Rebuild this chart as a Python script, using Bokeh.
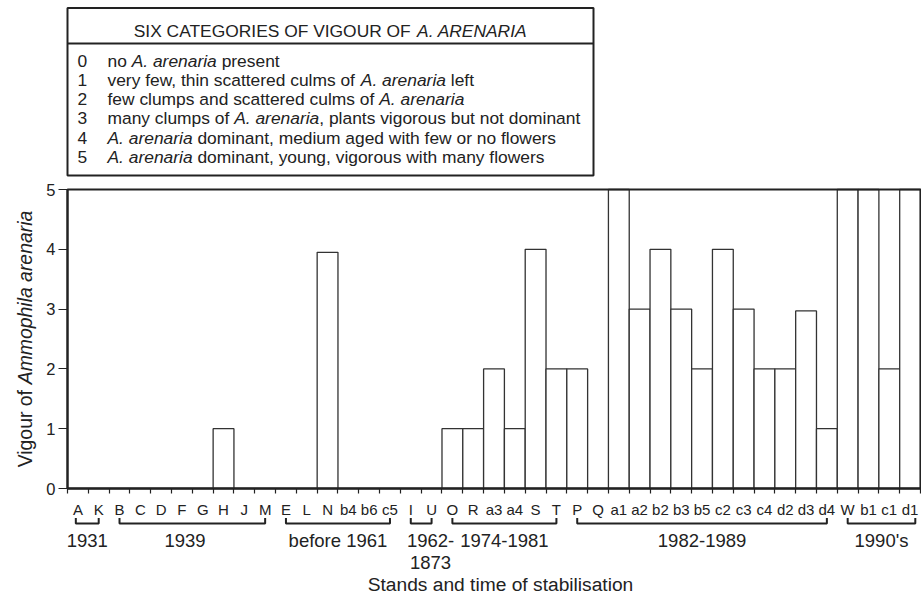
import math
from bokeh.plotting import figure
from bokeh.models import ColumnDataSource, Range1d, LinearAxis, FixedTicker
from bokeh.core.properties import value
from bokeh.embed import file_html
from bokeh.resources import INLINE

# ---------------- data ----------------
stands = ["A", "K", "B", "C", "D", "F", "G", "H", "J", "M",
          "E", "L", "N", "b4", "b6", "c5", "I", "U",
          "O", "R", "a3", "a4", "S", "T",
          "P", "Q", "a1", "a2", "b2", "b3", "b5", "c2", "c3", "c4", "d2", "d3", "d4",
          "W", "b1", "c1", "d1"]
vigour = [0, 0, 0, 0, 0, 0, 0, 1, 0, 0,
          0, 0, 3.95, 0, 0, 0, 0, 0,
          1, 1, 2, 1, 4, 2,
          2, 0, 5, 3, 4, 3, 2, 4, 3, 2, 2, 2.97, 1,
          5, 5, 2, 5]
y_ticks = [0, 1, 2, 3, 4, 5]
group_labels = ["1931", "1939", "before 1961", "1962-\n1873", "1974-1981", "1982-1989", "1990's"]
group_first = ["A", "B", "E", "I", "O", "P", "W"]
group_last = ["K", "M", "c5", "U", "T", "d4", "d1"]
legend_title = [("SIX CATEGORIES OF VIGOUR OF ", False), ("A. ARENARIA", True)]
legend_codes = ["0", "1", "2", "3", "4", "5"]
legend_desc = [
    [("no ", False), ("A. arenaria", True), (" present", False)],
    [("very few, thin scattered culms of ", False), ("A. arenaria", True), (" left", False)],
    [("few clumps and scattered culms of ", False), ("A. arenaria", True)],
    [("many clumps of ", False), ("A. arenaria", True), (", plants vigorous but not dominant", False)],
    [("A. arenaria", True), (" dominant, medium aged with few or no flowers", False)],
    [("A. arenaria", True), (" dominant, young, vigorous with many flowers", False)],
]
x_title = "Stands and time of stabilisation"
y_title = [("Vigour of ", False), ("Ammophila arenaria", True)]

# ---------------- geometry (canvas pixels) ----------------
W, H = 921, 596
X0, X1 = 67.0, 920.0      # canvas x of data 0 and data n
Y5, Y0 = 189.0, 488.0     # canvas y of vigour 5 and 0
n = len(stands)
ymax = max(y_ticks)
ppx = (X1 - X0) / n
ppy = (Y0 - Y5) / ymax


def dx(px):
    return (px - X0) / ppx


def dy(py):
    return (Y0 - py) / ppy


FONT = "Liberation Sans"
INK = "#222222"
LINE = "#333333"

# Arial / Liberation Sans advance widths (1/1000 em)
AW = {" ": 278, ",": 278, ".": 278, "-": 333, "'": 191}
for ch in "0123456789":
    AW[ch] = 556
AW.update(dict(a=556, b=556, c=500, d=556, e=556, f=278, g=556, h=556, i=222, j=222, k=500,
               l=222, m=833, n=556, o=556, p=556, q=556, r=333, s=500, t=278, u=556, v=500,
               w=722, x=500, y=500, z=500))
AW.update(dict(A=667, B=667, C=722, D=722, E=667, F=611, G=778, H=722, I=278, J=500, K=667,
               L=556, M=833, N=722, O=778, P=667, Q=778, R=722, S=667, T=611, U=722, V=667,
               W=944, X=667, Y=667, Z=611))


def tw(s, size):
    return sum(AW.get(c, 556) for c in s) * size / 1000.0


def place(segs, x0, size):
    out = []
    cur = x0
    for txt, it in segs:
        lead = len(txt) - len(txt.lstrip(" "))
        out.append((cur + tw(txt[:lead], size), txt.strip(" "), "italic" if it else "normal"))
        cur += tw(txt, size)
    return out, cur - x0


p = figure(width=W, height=H, output_backend="svg", toolbar_location=None,
           x_range=Range1d(dx(0), dx(W)), y_range=Range1d(dy(H), dy(0)),
           x_axis_location=None, y_axis_location=None, min_border=0,
           outline_line_color=None, background_fill_color="white",
           border_fill_color="white", title=None)
p.xgrid.visible = False
p.ygrid.visible = False

# ---------------- bars ----------------
centers = [i + 0.5 for i in range(n)]
src = ColumnDataSource(dict(x=centers, top=vigour, stand=stands))
p.vbar(x="x", top="top", bottom=0, width=1, source=src,
       fill_color="white", line_color=LINE, line_width=1.3)

# plot box
p.quad(left=[0], right=[n], bottom=[0], top=[ymax], fill_color=None,
       line_color=INK, line_width=2)

# ---------------- axes ----------------
yaxis = LinearAxis(fixed_location=0, bounds=(0, ymax), ticker=FixedTicker(ticks=y_ticks))
yaxis.axis_line_width = 2
yaxis.axis_line_color = INK
yaxis.major_tick_out = 9
yaxis.major_tick_in = 0
yaxis.major_tick_line_color = INK
yaxis.major_tick_line_width = 1.2
yaxis.minor_tick_line_color = None
yaxis.major_label_standoff = 3
yaxis.major_label_text_font = FONT
yaxis.major_label_text_font_size = "16.5px"
yaxis.major_label_text_color = INK
p.add_layout(yaxis, "left")

xaxis = LinearAxis(fixed_location=0, bounds=(0, n),
                   ticker=FixedTicker(ticks=centers, minor_ticks=list(range(n + 1))),
                   major_label_overrides={c: s for c, s in zip(centers, stands)})
xaxis.axis_line_width = 2
xaxis.axis_line_color = INK
xaxis.major_tick_line_color = None
xaxis.major_tick_out = 0
xaxis.major_tick_in = 0
xaxis.minor_tick_out = 5
xaxis.minor_tick_in = 0
xaxis.minor_tick_line_color = INK
xaxis.minor_tick_line_width = 1.2
xaxis.major_label_standoff = 7
xaxis.major_label_text_font = FONT
xaxis.major_label_text_font_size = "15px"
xaxis.major_label_text_color = INK
p.add_layout(xaxis, "below")

# ---------------- brackets and period labels ----------------
idx = {s: i for i, s in enumerate(stands)}
br_xs, br_ys, lab_x, lab_y, lab_t = [], [], [], [], []
yb = dy(523)
ye = dy(517.5)
for lab, a, b in zip(group_labels, group_first, group_last):
    xa = idx[a] + 0.5
    xb = idx[b] + 0.5
    if a == "A":
        xa -= 0.1
    if b == "d1":
        xb += 0.25
    br_xs.append([xa, xa, xb, xb])
    br_ys.append([ye, yb, yb, ye])
    cx = (xa + xb) / 2
    if "\n" in lab:
        cx += 0.45
    if lab == "1939":
        cx -= 0.35
    for k, line in enumerate(lab.split("\n")):
        lab_x.append(cx)
        lab_y.append(dy(540 + 22 * k))
        lab_t.append(line)
p.multi_line(xs=br_xs, ys=br_ys, line_color=INK, line_width=2)
p.text(x=lab_x, y=lab_y, text=lab_t, text_font=value(FONT), text_font_size=value("18.5px"),
       text_align="center", text_baseline="middle", text_color=INK)

# x title
p.text(x=[dx(500)], y=[dy(584)], text=[x_title], text_font=value(FONT),
       text_font_size=value("19.2px"), text_align="center", text_baseline="middle",
       text_color=INK)

# y title (rotated, mixed styles)
ysz = 19.4
segs, total = place(y_title, 0, ysz)
ycenter = (Y5 + Y0) / 2
ystart = ycenter + total / 2
yt_x, yt_y, yt_t, yt_s = [], [], [], []
for off, txt, sty in segs:
    yt_x.append(dx(24))
    yt_y.append(dy(ystart - off))
    yt_t.append(txt)
    yt_s.append(sty)
p.text(x=yt_x, y=yt_y, text=yt_t, text_font_style=yt_s, angle=math.pi / 2,
       text_font=value(FONT), text_font_size=value("%.1fpx" % ysz),
       text_align="left", text_baseline="middle", text_color=INK)

# ---------------- legend box ----------------
LB_L, LB_R, LB_T, LB_B, LB_H = 67.0, 593.0, 7.5, 175.0, 43.0
p.quad(left=[dx(LB_L)], right=[dx(LB_R)], top=[dy(LB_T)], bottom=[dy(LB_B)],
       fill_color="white", line_color=INK, line_width=2)
p.segment(x0=[dx(LB_L)], x1=[dx(LB_R)], y0=[dy(LB_H)], y1=[dy(LB_H)],
          line_color=INK, line_width=2)

lsz = 17.4
lx, ly, lt, ls = [], [], [], []
segs, total = place(legend_title, 0, lsz)
tstart = (LB_L + LB_R) / 2 - total / 2
for off, txt, sty in segs:
    lx.append(dx(tstart + off))
    ly.append(dy(30.8))
    lt.append(txt)
    ls.append(sty)
for i, (code, desc) in enumerate(zip(legend_codes, legend_desc)):
    yy = 60.0 + 19.3 * i
    lx.append(dx(77))
    ly.append(dy(yy))
    lt.append(code)
    ls.append("normal")
    segs, _ = place(desc, 107, lsz)
    for xx, txt, sty in segs:
        lx.append(dx(xx))
        ly.append(dy(yy))
        lt.append(txt)
        ls.append(sty)
p.text(x=lx, y=ly, text=lt, text_font_style=ls, text_font=value(FONT),
       text_font_size=value("%.1fpx" % lsz), text_align="left", text_baseline="middle",
       text_color=INK)

open("out.html", "w").write(file_html(p, INLINE))
